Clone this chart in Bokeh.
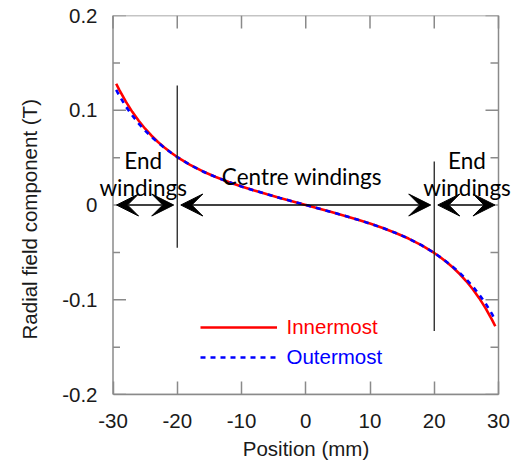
import math
from bokeh.plotting import figure
from bokeh.models import (Range1d, FixedTicker, Arrow, VeeHead, Legend,
                          LegendItem, ColumnDataSource, Label)
from bokeh.embed import file_html
from bokeh.resources import INLINE

# ---- data ----
position = [-29.5, -29, -28, -27, -26, -25, -24, -23, -22, -21, -20, -18, -16, -14, -12,
            -10, -8, -6, -4, -2, 0, 2, 4, 6, 8, 10, 12, 14, 16, 18, 20, 21, 22, 23, 24,
            25, 26, 27, 28, 29, 29.5]
innermost = [0.128, 0.1213, 0.1091, 0.0983, 0.0889, 0.0805, 0.0731, 0.0665, 0.0607,
             0.0554, 0.0506, 0.0423, 0.0354, 0.0295, 0.0243, 0.0196, 0.0153, 0.0113,
             0.0074, 0.0037, 0.0,
             -0.0037, -0.0074, -0.0113, -0.0153, -0.0196, -0.0243, -0.0295, -0.0354,
             -0.0423, -0.0506, -0.0554, -0.0607, -0.0665, -0.0731, -0.0805, -0.0889,
             -0.0983, -0.1091, -0.1213, -0.128]
outermost = [0.1215, 0.1152, 0.104, 0.0945, 0.086, 0.0785, 0.0718, 0.066, 0.0604,
             0.0554, 0.0506, 0.0423, 0.0354, 0.0295, 0.0243, 0.0196, 0.0153, 0.0113,
             0.0074, 0.0037, 0.0,
             -0.0037, -0.0074, -0.0113, -0.0153, -0.0196, -0.0243, -0.0295, -0.0354,
             -0.0423, -0.0506, -0.0554, -0.0604, -0.066, -0.0718, -0.0785, -0.086,
             -0.0945, -0.104, -0.1152, -0.1215]
x_ticks = [-30, -20, -10, 0, 10, 20, 30]
x_tick_labels = ["-30", "-20", "-10", "0", "10", "20", "30"]
y_ticks = [-0.2, -0.1, 0.0, 0.1, 0.2]
y_tick_labels = ["-0.2", "-0.1", "0", "0.1", "0.2"]
y_minor = [-0.15, -0.05, 0.05, 0.15]
series_names = ["Innermost", "Outermost"]
zone_bounds = [-30, -20, 20, 30]
zone_texts = ["End", "windings", "Centre windings"]

AX_FONT = "Liberation Sans"
ANN_FONT = "Lato"
FRAME = "#8a8a8a"
FS = "20.5px"

# axes box (data) and its pixel placement; the drawing frame is a little wider
# so that the zone texts may spill over the box edges as in the reference
X0, X1, Y0, Y1 = -30, 30, -0.2, 0.2
BOX_L, BOX_R, FR_L, FR_R, W, H = 112.5, 498.0, 98, 513, 523, 462
ppu = (BOX_R - BOX_L) / (X1 - X0)
XL = X0 - (BOX_L - FR_L) / ppu
XR = X1 + (FR_R - BOX_R) / ppu

p = figure(width=W, height=H, x_range=Range1d(XL, XR), y_range=Range1d(Y0, Y1),
           output_backend="svg", toolbar_location=None,
           min_border_left=FR_L, min_border_right=W - FR_R, min_border_top=15,
           min_border_bottom=67)
p.grid.visible = False
p.outline_line_color = None
p.background_fill_color = "white"
p.border_fill_color = "white"

def style_axis(ax):
    ax.major_label_text_font = AX_FONT
    ax.major_label_text_color = "#1a1a1a"
    ax.major_label_text_font_size = FS
    ax.axis_label_text_font = AX_FONT
    ax.axis_label_text_font_size = FS
    ax.axis_label_text_font_style = "normal"
    ax.axis_label_text_color = "#1a1a1a"
    ax.major_tick_out = 0
    ax.minor_tick_out = 0

xa = p.xaxis[0]
xa.ticker = FixedTicker(ticks=x_ticks, minor_ticks=[])
xa.major_label_overrides = {t: l for t, l in zip(x_ticks, x_tick_labels)}
style_axis(xa)
xa.bounds = (X0, X1)
xa.axis_line_color = FRAME
xa.axis_line_width = 1.5
xa.major_tick_line_color = FRAME
xa.major_tick_line_width = 1.5
xa.major_tick_in = 13
xa.axis_label = "Position (mm)"
xa.major_label_standoff = 19
xa.axis_label_standoff = 6

ya = p.yaxis[0]
ya.ticker = FixedTicker(ticks=y_ticks, minor_ticks=y_minor)
ya.major_label_overrides = {t: l for t, l in zip(y_ticks, y_tick_labels)}
style_axis(ya)
ya.axis_line_color = None
ya.major_tick_line_color = None
ya.minor_tick_line_color = None
ya.major_tick_in = 0
ya.minor_tick_in = 0
ya.axis_label = "Radial field component (T)" + "\u00a0" * 5
ya.major_label_standoff = 1
ya.axis_label_standoff = 18

# axes box and inward ticks on the other sides
p.quad(left=[X0], right=[X1], bottom=[Y0], top=[Y1], fill_color=None,
       line_color=FRAME, line_width=1.5)
p.ray(x=x_ticks, y=[Y1] * len(x_ticks), length=13, length_units="screen",
      angle=-math.pi / 2, line_color=FRAME, line_width=1.5)
p.ray(x=[X0] * len(y_ticks), y=y_ticks, length=13, length_units="screen",
      angle=0, line_color=FRAME, line_width=1.5)
p.ray(x=[X0] * len(y_minor), y=y_minor, length=7, length_units="screen",
      angle=0, line_color=FRAME, line_width=1.5)
p.ray(x=[X1] * len(y_ticks), y=y_ticks, length=13, length_units="screen",
      angle=math.pi, line_color=FRAME, line_width=1.5)
p.ray(x=[X1] * len(y_minor), y=y_minor, length=8, length_units="screen",
      angle=math.pi, line_color=FRAME, line_width=1.5)

# ---- curves ----
src = ColumnDataSource(dict(x=position, inner=innermost, outer=outermost))
r_in = p.line("x", "inner", source=src, line_color="#ff0000", line_width=2.6)
r_out = p.line("x", "outer", source=src, line_color="#0000ff", line_width=2.6,
               line_dash="5 5")

# ---- zone boundaries ----
p.segment(x0=[-20, 20], y0=[0.126, 0.046], x1=[-20, 20], y1=[-0.045, -0.133],
          line_color="#222222", line_width=1.3)

# ---- arrows ----
def head():
    return VeeHead(size=22, fill_color="black", line_color="black", line_width=1)

for a, b in zip(zone_bounds[:-1], zone_bounds[1:]):
    p.add_layout(Arrow(x_start=a + 0.55, y_start=0, x_end=b - 0.55, y_end=0,
                       start=head(), end=head(), line_color="black", line_width=1.3))

# ---- annotation texts ----
for x, y, t in [(-25.3, 0.047, zone_texts[0]), (-25.3, 0.018, zone_texts[1]),
                (25.1, 0.047, zone_texts[0]), (25.1, 0.018, zone_texts[1]),
                (-0.6, 0.030, zone_texts[2])]:
    p.add_layout(Label(x=x, y=y, text=t, text_font=ANN_FONT, text_font_size="22.5px",
                       text_align="center", text_baseline="alphabetic",
                       text_color="black"))

# ---- legends ----
for r, name, col, yloc in [(r_in, series_names[0], "#ff0000", 55.5),
                           (r_out, series_names[1], "#0000ff", 25.5)]:
    lg = Legend(items=[LegendItem(label=name, renderers=[r])], location=(101.5, yloc),
                glyph_width=77, glyph_height=20, label_standoff=10, padding=0, margin=0,
                border_line_alpha=0, background_fill_alpha=0,
                label_text_font=AX_FONT, label_text_font_size=FS,
                label_text_color=col)
    p.add_layout(lg)

open("out.html", "w").write(file_html(p, INLINE))
